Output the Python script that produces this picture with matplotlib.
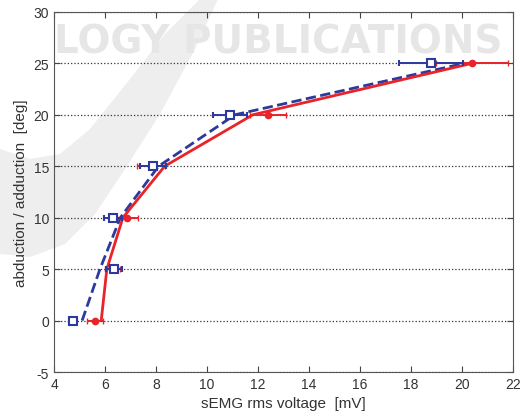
import matplotlib
matplotlib.use("Agg")
import matplotlib.pyplot as plt
from matplotlib.patches import Polygon

plt.rcParams['font.family'] = ['Liberation Sans', 'DejaVu Sans']
plt.rcParams['axes.unicode_minus'] = False

# measured means with horizontal error (half width)
angles = [0, 5, 10, 15, 20, 25]
red_mean = [5.6, 6.3, 6.88, 7.8, 12.4, 20.4]
red_err = [0.3, 0.3, 0.4, 0.55, 0.7, 1.4]
blue_mean = [4.75, 6.35, 6.3, 7.88, 10.9, 18.8]
blue_err = [0.15, 0.3, 0.35, 0.5, 0.65, 1.25]

# fitted curves
red_fit = [5.85, 6.07, 6.7, 8.34, 11.8, 20.4]
blue_fit = [5.1, 5.8, 6.6, 8.1, 11.1, 20.1]

red = '#e8232a'
blue = '#2b3a9c'
W, H = 525, 414

fig = plt.figure(figsize=(W / 100, H / 100), dpi=100)
ax = fig.add_axes([0.103, 0.099, 0.874, 0.870], zorder=2)
ax.patch.set_alpha(0)

# faint watermark in the background (publisher stamp)
swoosh = [(218, 0), (195, 50), (160, 115), (125, 170), (95, 215), (65, 245),
          (30, 258), (0, 255), (0, 150), (30, 160), (60, 155), (90, 130),
          (130, 80), (165, 35), (200, 0)]
fig.patches.append(Polygon([(x / W, 1 - y / H) for x, y in swoosh],
                           closed=True, transform=fig.transFigure,
                           facecolor='#eeeeee', edgecolor='none', zorder=0))
fig.text(0.53, 0.898, 'LOGY PUBLICATIONS', fontsize=28, color='#e6e6e6',
         ha='center', va='center', fontweight='bold', family='DejaVu Sans',
         zorder=0)

ax.plot(blue_fit, angles, '--', color=blue, lw=2, zorder=3)
ax.plot(red_fit, angles, '-', color=red, lw=2, zorder=3)
ax.errorbar(red_mean, angles, xerr=red_err, fmt='o', color=red, ms=4.5,
            capsize=2.5, elinewidth=1.4, zorder=4)
ax.errorbar(blue_mean, angles, xerr=blue_err, fmt='s', color=blue, mfc='white',
            ms=6, mew=1.5, capsize=2.5, elinewidth=1.4, zorder=5)

ax.set_xlim(4, 22)
ax.set_ylim(-5, 30)
ax.set_xticks(range(4, 23, 2))
ax.set_yticks(range(-5, 31, 5))
ax.yaxis.grid(True, linestyle=':', color='#333333', lw=0.9)
ax.tick_params(direction='in', top=True, right=True, labelsize=10,
               colors='#444444', labelcolor='#333333', length=4)
for s in ax.spines.values():
    s.set_color('#555555')
ax.set_xlabel('sEMG rms voltage  [mV]', fontsize=11, color='#333333')
ax.set_ylabel('abduction / adduction  [deg]', fontsize=11, color='#333333')

fig.savefig('out.png', dpi=100)
